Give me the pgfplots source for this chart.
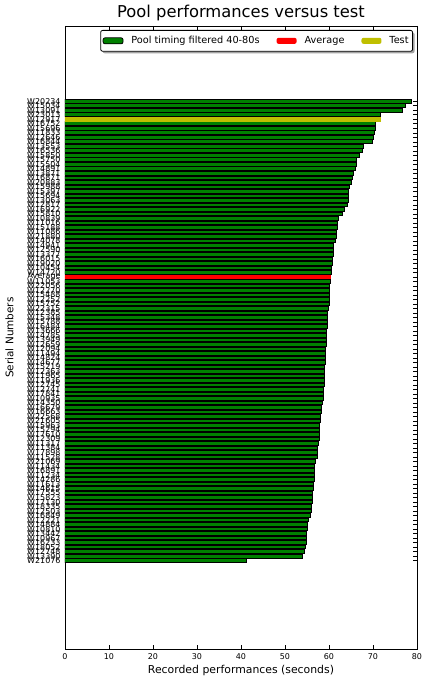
\documentclass[border=0pt]{standalone}
\usepackage{fontspec}
\setmainfont{DejaVu Sans}
\usepackage{pgfplots}
\usepackage{pgfplotstable}
\pgfplotsset{compat=1.18}
\usetikzlibrary{shadows}
\definecolor{mplgreen}{rgb}{0,0.5,0}
\definecolor{mplyellow}{rgb}{0.75,0.75,0}

\pgfplotstableread{
y val lab
0 41.3 W21076
1 54.0 W13390
2 54.5 W12748
3 54.7 W18052
4 54.9 W16233
5 54.9 W10967
6 54.9 W13442
7 55.1 W10810
8 55.1 W14884
9 55.4 W12221
10 55.8 W16849
11 56.1 W12503
12 56.1 W18335
13 56.3 W17130
14 56.3 W15823
15 56.3 W17555
16 56.5 W14615
17 56.5 W11613
18 56.7 W14286
19 56.7 W11234
20 56.7 W16891
21 56.7 W11434
22 57.0 W21069
23 57.4 W11528
24 57.4 W17898
25 57.4 W11384
26 57.6 W11317
27 57.9 W12309
28 57.9 W17610
29 57.9 W15294
30 57.9 W15963
31 58.1 W21605
32 58.1 W22568
33 58.3 W16663
34 58.3 W16679
35 58.6 W14350
36 58.8 W10935
37 58.8 W17841
38 58.8 W12741
39 59.0 W12745
40 59.0 W11936
41 59.0 W11965
42 59.0 W12363
43 59.0 W15219
44 59.2 W14677
45 59.2 W14824
46 59.2 W11494
47 59.2 W12094
48 59.5 W12659
49 59.5 W13949
50 59.5 W14785
51 59.5 W13666
52 59.7 W16484
53 59.7 W15788
54 59.7 W15348
55 59.7 W12385
56 59.9 W22315
57 60.1 W15752
58 60.1 W12252
59 60.1 W15488
60 60.1 W12270
61 60.1 W22056
62 60.4 W11053
63 nan Average
64 60.6 W14720
65 60.6 W10454
66 60.8 W19020
67 60.8 W16015
68 61.1 W13377
69 61.1 W12590
70 61.1 W14941
71 61.5 W14078
72 61.6 W21880
73 61.7 W11086
74 61.9 W15188
75 61.9 W11016
76 62.2 W10839
77 63.1 W15810
78 63.6 W16922
79 64.2 W12817
80 64.5 W13063
81 64.5 W15694
82 64.5 W15397
83 64.7 W15988
84 65.2 W20883
85 65.4 W16871
86 65.6 W13871
87 66.1 W14891
88 66.3 W15504
89 66.3 W15750
90 67.0 W15850
91 67.7 W16536
92 67.9 W13553
93 69.9 W16844
94 70.2 W12646
95 70.4 W11833
96 70.6 W15696
97 70.6 W16752
98 nan W12917
99 71.7 W23013
100 76.7 W13091
101 77.4 W15034
102 78.8 W20234
}\datatable

\begin{document}
\begin{tikzpicture}
\useasboundingbox (-65bp,-32bp) rectangle (363bp,649bp);
\begin{axis}[
  scale only axis, width=352bp, height=623bp,
  xmin=0, xmax=80, ymin=-19.6, ymax=118.7,
  xbar, bar width=0.8, bar shift=0pt,
  xtick={0,10,...,80},
  ytick={0,1,...,102},
  yticklabels from table={\datatable}{lab},
  tick align=inside, major tick length=4bp,
  tick style={black, line width=0.5bp},
  axis line style={line width=0.8bp},
  /pgf/number format/assume math mode=true,
  xticklabel style={font=\fontsize{8}{8}\selectfont, anchor=base, yshift=-10bp},
  yticklabel style={font=\fontsize{8}{8}\selectfont, xshift=-1bp},
  every axis title shift=0pt,
  title={Pool performances versus test},
  title style={font=\fontsize{16.4}{18}\selectfont, at={(axis description cs:0.5,1)}, anchor=base, yshift=8bp},
  xlabel={Recorded performances (seconds)},
  xlabel style={font=\fontsize{10.9}{12}\selectfont, at={(axis description cs:0.5,0)}, anchor=base, yshift=-24bp},
  ylabel={Serial Numbers},
  ylabel style={font=\fontsize{10.5}{12}\selectfont, at={(axis description cs:-0.158,0.5)}, anchor=center, rotate=0},
  legend columns=3,
  legend style={font=\fontsize{9.75}{11}\selectfont, draw=black, line width=0.8bp, rounded corners=2bp,
    at={(1,1)}, anchor=north east, xshift=-4bp, yshift=-4bp, inner xsep=2bp, inner ysep=4bp,
    drop shadow={shadow xshift=2bp, shadow yshift=-2bp, fill=black!60, opacity=0.6},
    /tikz/every odd column/.append style={column sep=6bp},
    /tikz/every even column/.append style={column sep=15bp}},
  legend cell align=left,
]
\addplot[fill=mplgreen, draw=black, line width=1bp,
  legend image code/.code={\pgfsetfillcolor{mplgreen}\pgfsetstrokecolor{black}\pgfsetlinewidth{0.8bp}%
    \pgfpathrectangle{\pgfpoint{0bp}{-3bp}}{\pgfpoint{20bp}{6bp}}\pgfusepath{fill,stroke}}]
  table[x=val, y=y] {\datatable};
\addlegendentry{Pool timing filtered 40-80s}
\addplot[fill=red, draw=red, line width=1bp,
  legend image code/.code={\pgfsetfillcolor{red}%
    \pgfpathrectangle{\pgfpoint{0bp}{-3bp}}{\pgfpoint{20bp}{6bp}}\pgfusepath{fill}}]
  coordinates {(60.4,63)};
\addlegendentry{Average}
\addplot[fill=mplyellow, draw=mplyellow, line width=1bp,
  legend image code/.code={\pgfsetfillcolor{mplyellow}%
    \pgfpathrectangle{\pgfpoint{0bp}{-3bp}}{\pgfpoint{20bp}{6bp}}\pgfusepath{fill}}]
  coordinates {(71.8,98)};
\addlegendentry{Test}
\end{axis}
\end{tikzpicture}
\end{document}
